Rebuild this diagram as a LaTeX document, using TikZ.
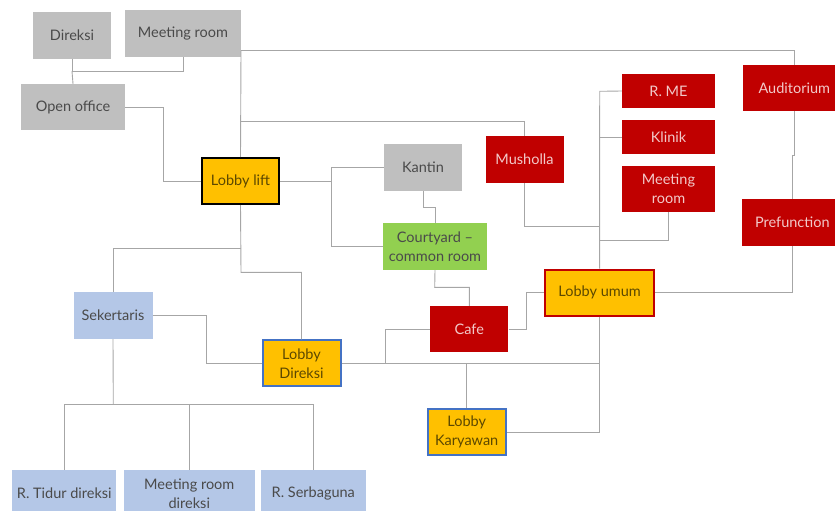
\documentclass[tikz,border=0pt]{standalone}
\usepackage{fontspec}
\setmainfont{Lato}
\definecolor{boxgrey}{HTML}{BFBFBF}
\definecolor{boxred}{HTML}{C00000}
\definecolor{boxyellow}{HTML}{FFC000}
\definecolor{boxgreen}{HTML}{92D050}
\definecolor{boxblue}{HTML}{B4C7E7}
\definecolor{edgeblue}{HTML}{4472C4}
\definecolor{txtdark}{HTML}{4A4A4A}
\definecolor{txtlight}{HTML}{F2C9C9}
\definecolor{txtlobby}{HTML}{5C4800}
\definecolor{linegrey}{HTML}{A6A6A6}
\begin{document}
\begin{tikzpicture}[x=1pt,y=-1pt,
  room/.style={rectangle, inner sep=2pt, align=center,
    font=\fontsize{14.5}{19}\selectfont},
  greyroom/.style={room, fill=boxgrey, text=txtdark},
  redroom/.style={room, fill=boxred, text=txtlight},
  greenroom/.style={room, fill=boxgreen, text=txtdark},
  blueroom/.style={room, fill=boxblue, text=txtdark},
  lobbylift/.style={room, fill=boxyellow, text=txtlobby, draw=black, line width=2pt},
  lobbyred/.style={room, fill=boxyellow, text=txtlobby, draw=boxred, line width=2pt},
  lobbyblue/.style={room, fill=boxyellow, text=txtlobby, draw=edgeblue, line width=2pt},
  link/.style={draw=linegrey, line width=0.9pt}]
\useasboundingbox (0,0) rectangle (835,511);

% junction points of the connectors
\coordinate (jd) at (72,71);
\coordinate (jo) at (163.3,140);
\coordinate (tt) at (241,50.7);
\coordinate (tm) at (241,121.7);
\coordinate (ts) at (241,248);
\coordinate (tl) at (241,272.3);
\coordinate (jk) at (331.7,181);
\coordinate (kc) at (423,207.3);
\coordinate (cc) at (434.7,287.3);
\coordinate (sp) at (599.7,91.3);
\coordinate (sm) at (599.7,226);
\coordinate (sr) at (599.7,240.3);
\coordinate (sb) at (599.7,363.3);
\coordinate (cw) at (385.7,363.3);
\coordinate (ce) at (526.7,310);
\coordinate (aj) at (794.3,155.3);
\coordinate (ak) at (792.3,155.3);
\coordinate (se) at (206.7,340);
\coordinate (sj) at (113.3,404.7);

% room boxes
\node[greyroom, minimum width=78pt, minimum height=47pt] (direksi) at (72,35.5) {Direksi};
\node[greyroom, minimum width=116pt, minimum height=47pt] (mroom) at (183,33.5) {Meeting room};
\node[greyroom, minimum width=104pt, minimum height=46pt] (openoff) at (73,107) {Open office};
\node[lobbylift, minimum width=77pt, minimum height=46pt] (lift) at (240.5,181) {Lobby lift};
\node[greyroom, minimum width=78pt, minimum height=47pt] (kantin) at (423,167.5) {Kantin};
\node[greenroom, minimum width=104pt, minimum height=47pt] (court) at (435,246.5) {Courtyard --\\common room};
\node[redroom, minimum width=78pt, minimum height=47pt] (mush) at (524.5,159.5) {Musholla};
\node[redroom, minimum width=93pt, minimum height=34pt] (rme) at (668.5,91) {R. ME};
\node[redroom, minimum width=93pt, minimum height=34pt] (klinik) at (668.5,137) {Klinik};
\node[redroom, minimum width=93pt, minimum height=46pt] (mroomr) at (668.5,189) {Meeting\\room};
\node[redroom, minimum width=103pt, minimum height=46pt] (audit) at (794.3,88) {Auditorium};
\node[redroom, minimum width=101pt, minimum height=47pt] (prefun) at (792.3,222.5) {Prefunction};
\node[lobbyred, minimum width=109pt, minimum height=46pt] (lumum) at (599.6,292.5) {Lobby umum};
\node[redroom, minimum width=78pt, minimum height=46pt] (cafe) at (469.3,329) {Cafe};
\node[lobbyblue, minimum width=78pt, minimum height=46pt] (lkar) at (466.7,432) {Lobby\\Karyawan};
\node[blueroom, minimum width=79pt, minimum height=47pt] (sek) at (113,315.5) {Sekertaris};
\node[lobbyblue, minimum width=78pt, minimum height=46pt] (ldir) at (301.5,363.3) {Lobby\\Direksi};
\node[blueroom, minimum width=104pt, minimum height=47pt] (rtidur) at (64.3,493.5) {R. Tidur direksi};
\node[blueroom, minimum width=131pt, minimum height=47pt] (mrd) at (189.3,493.5) {Meeting room\\direksi};
\node[blueroom, minimum width=105pt, minimum height=47pt] (rserb) at (313.3,493.5) {R. Serbaguna};

% links among the office rooms
\path[link] (direksi.south) -- (jd) -| (mroom.south);
\path[link] (jd) -- (openoff.north);
\path[link] (openoff.east) -| (jo) |- (lift.west);

% main spine from the lift
\path[link] (tt) -| (audit.north);
\path[link] (tt) -- (lift.north);
\path[link] (tm) -| (mush.north);
\path[link] (lift.south) -- (tl) -| (ldir.north);
\path[link] (ts) -| (sek.north);

% kantin and courtyard
\path[link] (lift.east) -- (jk);
\path[link] (kantin.west) -| (jk) |- (court.west);
\path[link] (kantin.south) -- (kc) -| (court.north);
\path[link] (court.south) -- (cc) -| (cafe.north);

% east spine
\path[link] (rme.west) -- (sp) -- (lumum.north);
\path[link] (klinik.west) -- (klinik.west -| sp);
\path[link] (mush.south) |- (sm);
\path[link] (mroomr.south) |- (sr);
\path[link] (lumum.south) |- (lkar.east);
\path[link] (ldir.east) -- (sb);
\path[link] (lkar.north) -- (lkar.north |- sb);
\path[link] (cafe.west) -| (cw);
\path[link] (cafe.east) -| (ce) |- (lumum.west);
\path[link] (audit.south) -- (aj) -- (ak) -- (prefun.north);
\path[link] (prefun.south) |- (lumum.east);

% director's wing
\path[link] (sek.east) -| (se) |- (ldir.west);
\path[link] (sek.south) -- (sj);
\path[link] (rtidur.north) |- (sj) -| (rserb.north);
\path[link] (mrd.north) -- (mrd.north |- sj);
\end{tikzpicture}
\end{document}
